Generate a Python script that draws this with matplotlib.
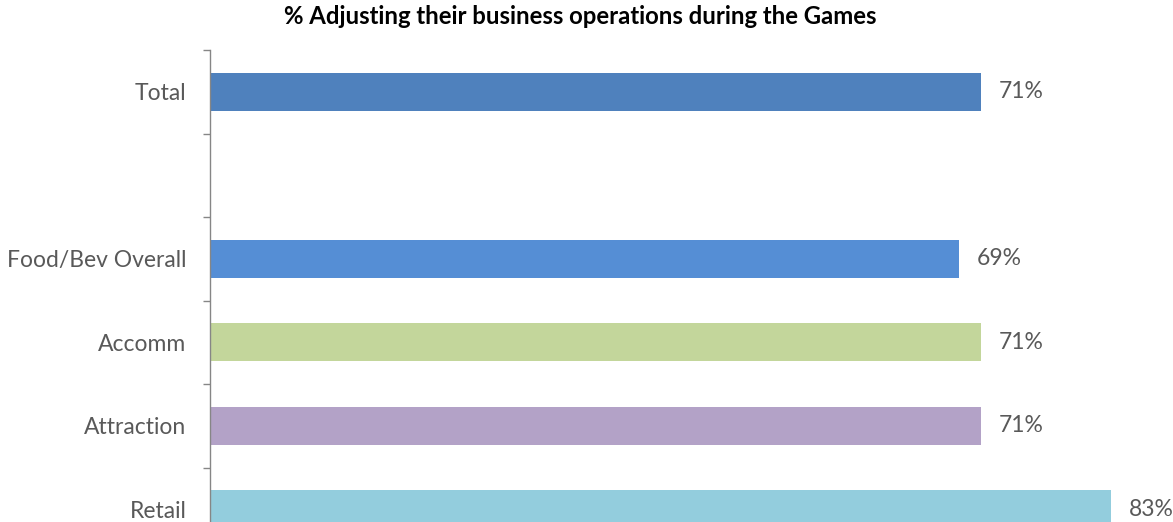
import numpy as np
import matplotlib
matplotlib.use("Agg")
import matplotlib.pyplot as plt
from matplotlib.ticker import FixedLocator

# survey results, top to bottom (blank row separates Total from segments)
categories = ["Total", "", "Food/Bev Overall", "Accomm", "Attraction", "Retail"]
values = [71, None, 69, 71, 71, 83]
colors = ["#4F81BD", None, "#558ED5", "#C3D69B", "#B3A2C7", "#93CDDD"]

title = "% Adjusting their business operations during the Games"

plt.rcParams["font.family"] = ["Lato", "DejaVu Sans"]

fig = plt.figure(figsize=(11.73, 5.22), dpi=100)
# axes runs off the bottom edge so the last row is partly cut
ax = fig.add_axes([210 / 1173, -29 / 522, 963 / 1173, 501 / 522])

pos = np.arange(len(categories))
for y, v, c in zip(pos, values, colors):
    if v is None:
        continue
    ax.barh(y, v, height=0.46, color=c, edgecolor="none")
    ax.text(v + 1.6, y, "%d%%" % v, va="center", ha="left",
            fontsize=16.5, color="#595959")

ax.set_xlim(0, 963 / 10.86)
ax.set_ylim(len(categories) - 0.5, -0.5)

ax.set_yticks(pos)
ax.set_yticklabels(categories, fontsize=16.5, color="#595959")
ax.tick_params(axis="y", which="major", length=0, pad=17)
ax.yaxis.set_minor_locator(FixedLocator(np.arange(-0.5, len(categories), 1.0)))
ax.tick_params(axis="y", which="minor", length=5, width=1, color="#868686")
ax.set_xticks([])

for side in ["top", "right", "bottom"]:
    ax.spines[side].set_visible(False)
ax.spines["left"].set_color("#868686")
ax.spines["left"].set_linewidth(1)

fig.text(0.495, 0.968, title, ha="center", va="center",
         fontsize=17.2, fontweight="bold", color="black")

fig.savefig("out.png", dpi=100)
